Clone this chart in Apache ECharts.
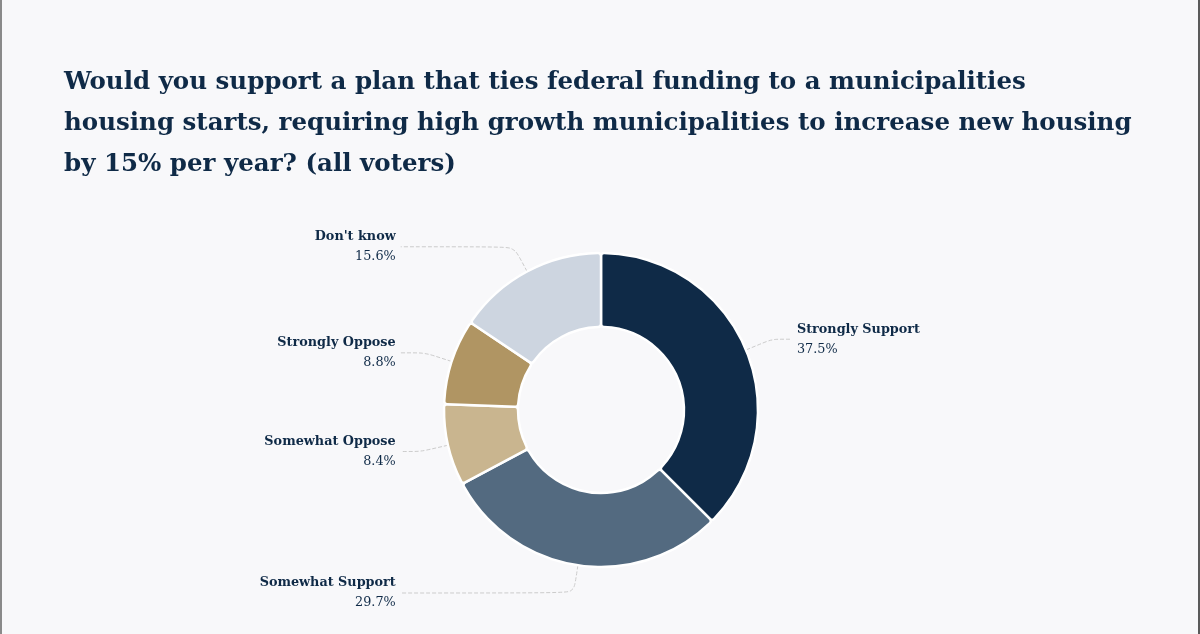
<!DOCTYPE html>
<html>
<head>
<meta charset="utf-8">
<script src="https://cdn.jsdelivr.net/npm/echarts@6/dist/echarts.min.js"></script>
<style>
  html, body { margin: 0; padding: 0; background: #f8f8fa; }
  #main { width: 1200px; height: 634px; box-sizing: border-box; border-left: 2px solid #8a8a8a; border-right: 2px solid #5a5a5a; }
</style>
</head>
<body>
<div id="main"></div>
<script>
// survey answers, clockwise from 12 o'clock
var categories = ['Strongly Support', 'Somewhat Support', 'Somewhat Oppose', 'Strongly Oppose', "Don't know"];
var shares = [37.5, 29.7, 8.4, 8.8, 15.6];
var colors = ['#0f2a47', '#536a80', '#c9b58f', '#b09563', '#cdd5e0'];

var titleText = 'Would you support a plan that ties federal funding to a municipalities\n' +
  'housing starts, requiring high growth municipalities to increase new housing\n' +
  'by 15% per year? (all voters)';

var chart = echarts.init(document.getElementById('main'));

var pieData = categories.map(function (name, i) {
  return { name: name, value: shares[i], itemStyle: { color: colors[i] } };
});

var option = {
  backgroundColor: '#f8f8fa',
  title: {
    text: titleText,
    left: 57,
    top: 57,
    textStyle: {
      fontFamily: 'DejaVu Serif',
      fontWeight: 'bold',
      fontSize: 24.5,
      lineHeight: 41,
      color: '#0f2a47'
    }
  },
  series: [{
    type: 'pie',
    center: [599, 410],
    radius: [83, 157],
    startAngle: 90,
    clockwise: true,
    data: pieData,
    itemStyle: {
      borderColor: '#ffffff',
      borderWidth: 2.5,
      borderRadius: 3
    },
    label: {
      alignTo: 'labelLine',
      formatter: function (p) {
        return '{n|' + p.name + '}\n{v|' + p.value.toFixed(1) + '%}';
      },
      rich: {
        n: { fontFamily: 'DejaVu Serif', fontWeight: 'bold', fontSize: 12.8, color: '#0f2a47', lineHeight: 20 },
        v: { fontFamily: 'DejaVu Serif', fontSize: 12.8, color: '#0f2a47', lineHeight: 20 }
      }
    },
    labelLine: {
      length: 28,
      length2: 20,
      smooth: 0.2,
      lineStyle: { color: '#cccccc', type: 'dashed', width: 1 }
    }
  }]
};

chart.setOption(option);
</script>
</body>
</html>
